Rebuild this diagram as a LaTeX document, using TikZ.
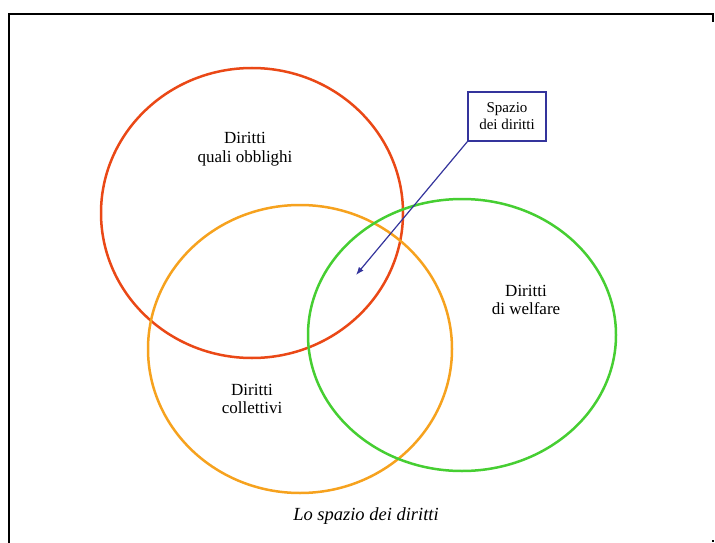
\documentclass[tikz,border=0pt]{standalone}
\usepackage{fontspec}
\setmainfont{Liberation Serif}
\usetikzlibrary{arrows.meta,positioning}
\definecolor{rosso}{RGB}{234,72,22}
\definecolor{arancio}{RGB}{246,162,30}
\definecolor{verde}{RGB}{70,206,50}
\definecolor{blu}{RGB}{52,52,156}

\begin{document}
\begin{tikzpicture}
	[
	x = 1pt, y = -1pt,
  	> = {Latex[length=8pt,width=6pt]},
  	insieme/.style = {line width=2.5pt},
  	etichetta/.style = {align=center, font=\fontsize{17}{18.5}\selectfont},
  	riquadro/.style = {draw=blu, line width=1.4pt, align=center, minimum width=78pt, minimum height=49pt, inner sep=2pt, font=\fontsize{15}{17}\selectfont}
  	]
		\useasboundingbox (0,0) rectangle (715,543);

		% cornice
		\draw[line width=2.2pt] (9,543) -- (9,14) -- (713,14) -- (713,22);
		\fill (712,540) rectangle (714,542);

		\coordinate (r) at (252,213);
		\coordinate (o) at (300,349);
		\coordinate (v) at (462,335);

		\draw[insieme, rosso]   (r) ellipse [x radius=151, y radius=145];
		\draw[insieme, arancio] (o) ellipse [x radius=152, y radius=144];
		\draw[insieme, verde]   (v) ellipse [x radius=154, y radius=136];

		\node[etichetta] (obblighi)  at (245,149) {Diritti\\quali obblighi};
		\node[etichetta] (collettivi) at (252,399) {Diritti\\collettivi};
		\node[etichetta] (welfare)   at (526,300) {Diritti\\di welfare};

		\node[riquadro] (spazio) at (507,116.5) {Spazio\\dei diritti};
		\coordinate (punta) at (356,275);
		\draw[->, blu, line width=1.2pt] (spazio.south west) -- (punta);

		\node[font=\fontsize{18.5}{20}\selectfont\itshape] (titolo) at (366,516) {Lo spazio dei diritti};

	\end{tikzpicture}
\end{document}
